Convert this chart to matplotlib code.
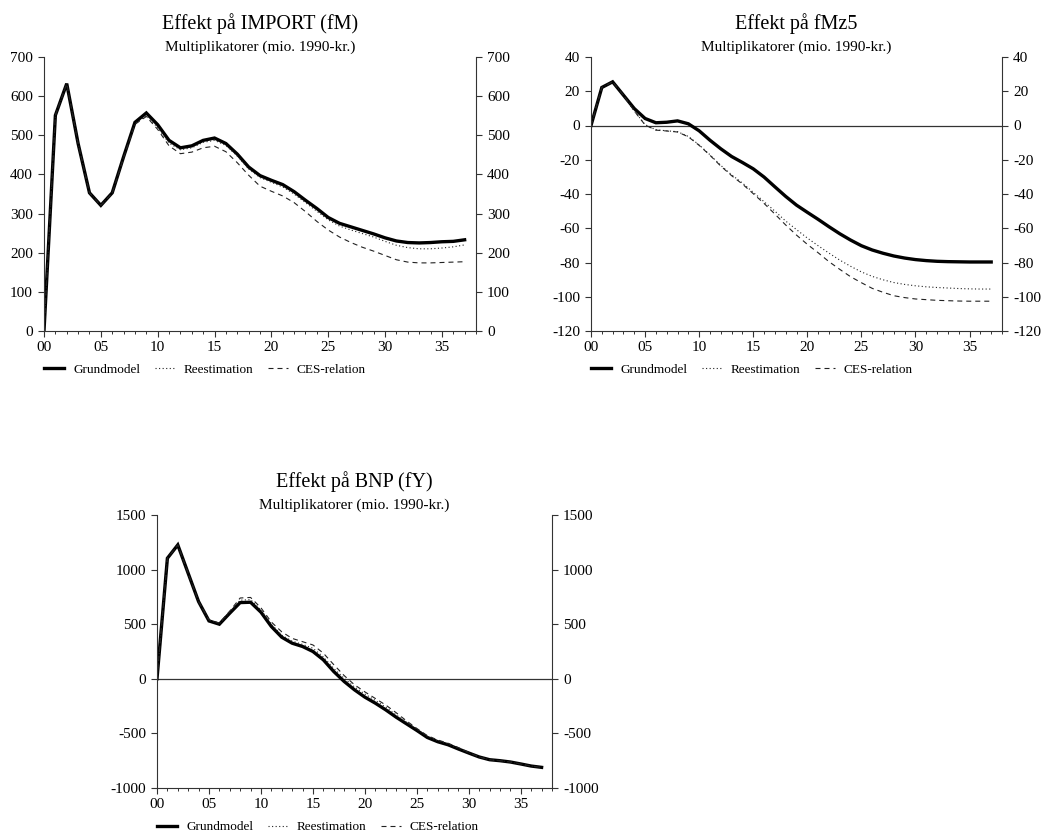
import matplotlib
matplotlib.use("Agg")
import matplotlib.pyplot as plt
from matplotlib.ticker import MultipleLocator, FuncFormatter
from matplotlib.lines import Line2D

plt.rcParams['font.family'] = ['Liberation Serif', 'DejaVu Serif']

years = list(range(0, 38))
xtick_labels = ["00", "05", "10", "15", "20", "25", "30", "35"]
series_names = ["Grundmodel", "Reestimation", "CES-relation"]

imp_grund = [0, 551, 632, 479, 353, 321, 353, 445, 533, 557, 527, 487, 468, 473, 487, 493,
             479, 452, 419, 397, 385, 374, 356, 334, 313, 290, 275, 266, 257, 248, 238, 230,
             226, 225, 226, 228, 229, 233]
imp_reest = [0, 551, 632, 479, 353, 321, 353, 443, 530, 550, 520, 480, 463, 468, 482, 487,
             474, 447, 414, 392, 380, 368, 350, 328, 306, 284, 268, 258, 249, 240, 229, 219,
             213, 210, 210, 212, 215, 220]
imp_ces = [0, 551, 632, 479, 353, 321, 352, 443, 528, 548, 515, 473, 453, 457, 468, 472,
           458, 430, 398, 370, 357, 345, 328, 305, 280, 258, 240, 226, 214, 204, 193, 182,
           176, 174, 174, 175, 176, 177]

mz_grund = [0, 22.2, 25.5, 17.7, 9.9, 4.1, 1.6, 1.9, 2.7, 1.0, -3.1, -8.6, -13.6, -18.1,
            -21.6, -25.3, -30.1, -35.8, -41.4, -46.5, -50.7, -54.8, -59.1, -63.2, -66.9,
            -70.2, -72.7, -74.6, -76.2, -77.4, -78.3, -78.9, -79.3, -79.5, -79.6, -79.7,
            -79.7, -79.7]
mz_reest = [0, 22.2, 25.5, 17.7, 8.5, 0.5, -2.5, -3.1, -3.6, -6.4, -11.3, -17.1, -23.3,
            -28.8, -33.6, -39.0, -44.5, -50.0, -55.8, -60.8, -65.7, -70.2, -74.5, -78.6,
            -82.2, -85.5, -88.1, -90.1, -91.7, -92.8, -93.6, -94.2, -94.6, -94.9, -95.2,
            -95.4, -95.5, -95.5]
mz_ces = [0, 22.2, 25.5, 17.7, 8.5, 0.3, -2.7, -3.2, -3.8, -6.6, -11.6, -17.4, -23.7,
          -29.3, -34.2, -39.8, -45.5, -51.7, -58.1, -64.0, -69.4, -74.3, -79.5, -84.0,
          -88.3, -91.8, -95.1, -97.4, -99.4, -100.5, -101.3, -101.7, -102.1, -102.3,
          -102.5, -102.6, -102.6, -102.6]

bnp_grund = [0, 1104, 1226, 966, 707, 530, 500, 601, 698, 701, 610, 479, 381, 326, 296, 250,
             174, 67, -24, -101, -168, -223, -284, -351, -412, -473, -537, -576, -604, -643,
             -680, -716, -741, -750, -762, -780, -799, -811]
bnp_reest = [0, 1104, 1226, 966, 707, 535, 505, 610, 720, 725, 630, 500, 400, 345, 315, 280,
             200, 95, 5, -75, -140, -198, -260, -330, -398, -462, -528, -568, -598, -636,
             -678, -716, -741, -750, -762, -780, -799, -811]
bnp_ces = [0, 1104, 1226, 966, 707, 540, 510, 620, 740, 745, 650, 520, 430, 370, 340, 310,
           235, 130, 30, -55, -120, -180, -240, -310, -385, -455, -520, -560, -590, -630,
           -675, -716, -741, -750, -762, -780, -799, -811]

W, H = 1050, 835
fig = plt.figure(figsize=(W / 100, H / 100), dpi=100)

SOLID = dict(color='black', lw=2.4, solid_joinstyle='miter')
DOT = dict(color='#222222', lw=0.8, linestyle=(0, (1, 2.2)))
DASH = dict(color='#222222', lw=0.8, linestyle=(0, (4.5, 3.6)))


def px_axes(l, r, t, b):
    return [l / W, 1 - b / H, (r - l) / W, (b - t) / H]


def panel(rect, title, ylim, ystep, data, zero_line):
    l, r, t, b = rect
    ax = fig.add_axes(px_axes(l, r, t, b))
    g, re, ce = data
    ax.plot(years, g, **SOLID)
    ax.plot(years, re, **DOT)
    ax.plot(years, ce, **DASH)
    if zero_line:
        ax.axhline(0, color='#333333', lw=0.9, zorder=1)
    ax.set_xlim(0, 38)
    ax.set_ylim(*ylim)
    ax.yaxis.set_major_locator(MultipleLocator(ystep))
    ax.xaxis.set_major_locator(MultipleLocator(5))
    ax.xaxis.set_minor_locator(MultipleLocator(1))
    ax.set_xticks(list(range(0, 36, 5)))
    ax.set_xticklabels(xtick_labels)
    ax.yaxis.set_major_formatter(FuncFormatter(lambda v, p: f"{int(round(v))}"))
    ax.spines['top'].set_visible(False)
    for s in ('left', 'right', 'bottom'):
        ax.spines[s].set_linewidth(0.8)
        ax.spines[s].set_color('#333333')
    ax.tick_params(axis='y', which='major', left=True, right=True, labelleft=True,
                   labelright=True, direction='out', length=4, width=0.8,
                   labelsize=11, pad=4, color='#333333')
    ax.tick_params(axis='x', which='major', direction='out', length=4, width=0.8,
                   labelsize=11, pad=3, color='#333333')
    ax.tick_params(axis='x', which='minor', direction='out', length=2.2, width=0.7,
                   color='#333333')
    cx = (l + r) / 2
    fig.text(cx / W, 1 - (t - 33) / H, title, ha='center', va='center', fontsize=14.5)
    fig.text(cx / W, 1 - (t - 10) / H, "Multiplikatorer (mio. 1990-kr.)", ha='center',
             va='center', fontsize=11)
    handles = [Line2D([], [], **SOLID), Line2D([], [], **DOT), Line2D([], [], **DASH)]
    fig.legend(handles, series_names, loc='center left',
               bbox_to_anchor=(l / W, 1 - (b + 39) / H), ncol=3, frameon=False,
               fontsize=9.5, handlelength=1.5, handletextpad=0.7, columnspacing=1.1,
               borderpad=0, borderaxespad=0)
    return ax


panel((44, 476, 57, 331), "Effekt på IMPORT (fM)", (0, 700), 100,
      (imp_grund, imp_reest, imp_ces), False)
panel((591, 1002, 57, 331), "Effekt på fMz5", (-120, 40), 20,
      (mz_grund, mz_reest, mz_ces), True)
panel((157, 552, 515, 788), "Effekt på BNP (fY)", (-1000, 1500), 500,
      (bnp_grund, bnp_reest, bnp_ces), True)

fig.savefig("out.png", dpi=100)
